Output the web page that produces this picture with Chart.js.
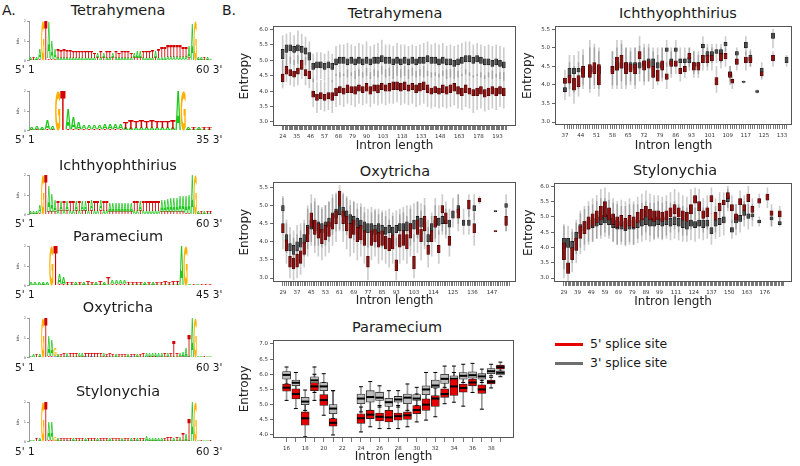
<!DOCTYPE html>
<html>
<head>
<meta charset="utf-8">
<script src="https://cdn.jsdelivr.net/npm/chart.js@4.4.0/dist/chart.umd.min.js"></script>
<style>
  body { margin: 0; width: 800px; height: 466px; overflow: hidden; position: relative; background: #fff;
         font-family: "DejaVu Sans", sans-serif; color: #1a1a1a; }
  .txt { position: absolute; white-space: nowrap; line-height: 1; }
  .key { position: absolute; height: 3px; }
</style>
</head>
<body>
<script>
// ---------- panel A: sequence logos (letters per position, bits per position) ----------
const tetraLogoTop = "ATAAGTAAAT" + "TTTTTTTTTT" + "TTATATTATT" + "TTTTAAATTT" + "TATTTTTTTT" + "TTAAGAATAA";
const tetraLogoTopBits = [.12,.12,.15,.5,2,2,1.85,.9,.5,.45, .42,.45,.4,.38,.35,.35,.32,.3,.3,.32,
  .3,.28,.25,.3,.25,.3,.3,.25,.3,.28, .35,.32,.3,.28,.28,.3,.32,.35,.3,.3,
  .38,.3,.45,.5,.55,.58,.6,.62,.6,.6, .55,.55,.6,1.9,2,.12,.15,.1,.1,.08];
const tetraLogoLow = "TATTAATTTA" + "AAAAAAAAAA" + "AATATAATAA" + "AAAATTTAAA" + "ATAAAAAAAA" + "AATTATTATT";
const tetraLogoLowBits = [.05,.05,.06,.1,0,0,.1,.08,.1,.15, .15,.16,.15,.14,.15,.16,.15,.14,.15,.16,
  .15,.14,.12,.15,.12,.14,.15,.12,.15,.14, .15,.14,.15,.14,.12,.12,.13,.15,.14,.15,
  .15,.12,.15,.18,.18,.2,.2,.2,.2,.2, .2,.2,.15,0,0,.05,.06,.05,.05,.04];

const tetra35LogoTop = "AAAAAGTAAA" + "AAAAAAAATT" + "TTTTTTTTAG" + "ATATT";
const tetra35LogoTopBits = [.15,.2,.15,.45,.2,2,2,1,.6,.3, .2,.22,.2,.22,.25,.28,.25,.25,.3,.45,
  .35,.38,.32,.42,.3,.35,.3,.45,2,2, .1,.15,.1,.12,.15];
const tetra35LogoLow = "TTTTTAATTT" + "TTTTTTTTAA" + "AAAAAAAAAA" + "TATAA";
const tetra35LogoLowBits = [.05,.05,.05,.08,.05,0,0,.1,.1,.1, .08,.08,.08,.08,.1,.1,.1,.1,.12,.12,
  .15,.15,.15,.15,.15,.15,.15,.12,0,0, .05,.05,.05,.05,.05];

const ichLogoTop = "AAAAGTAAAT" + "ATATTATAAT" + "ATTATTAAAA" + "AAAATTATTT" + "TTTAAAAAAA" + "AAAAGATATT";
const ichLogoTopBits = [.12,.15,.15,.4,2,2,1.3,.9,.6,.55, .5,.55,.5,.55,.55,.5,.55,.5,.5,.55,
  .5,.55,.55,.5,.55,.55,.45,.45,.45,.45, .45,.45,.45,.45,.55,.55,.5,.55,.55,.55,
  .55,.55,.55,.6,.62,.65,.7,.72,.75,.78, .8,.85,.9,2,2,.1,.12,.1,.12,.1];
const ichLogoLow = "TTTTAATTTA" + "TATAATATTA" + "TAATAATTTT" + "TTTTAATAAA" + "AAATTTTTTT" + "TTTTATATAA";
const ichLogoLowBits = [.05,.05,.05,.08,0,0,.12,.12,.15,.2, .2,.2,.2,.2,.2,.2,.2,.2,.2,.2,
  .22,.2,.2,.22,.2,.2,.15,.15,.15,.15, .15,.15,.15,.15,.2,.2,.2,.2,.2,.2,
  .2,.2,.2,.15,.15,.15,.15,.12,.12,.12, .12,.1,.1,0,0,.05,.05,.05,.05,.05];

const paraLogoTop = "AAAAAGTAAT" + "TATATTATAT" + "AAAATTTTAT" + "ATTTTTTAGA" + "TATTT";
const paraLogoTopBits = [.1,.12,.1,.15,.12,2,2,.5,.3,.15, .15,.12,.15,.12,.18,.12,.15,.2,.15,.3,
  .18,.2,.2,.18,.15,.15,.15,.12,.15,.15, .12,.15,.15,.18,.15,.18,.2,2,2,.08, .08,.08,.06,.08,.06];
const paraLogoLow = "TTTTTAATTA" + "ATATAATATA" + "TTTTAAAATA" + "TAAAAAATAT" + "ATAAA";
const paraLogoLowBits = [.04,.04,.04,.05,.04,0,0,.08,.08,.06, .06,.06,.06,.06,.06,.06,.06,.06,.06,.08,
  .08,.08,.08,.08,.06,.06,.06,.06,.06,.06, .06,.06,.06,.06,.06,.06,.06,0,0,.03, .03,.03,.03,.03,.03];

const oxyLogoTop = "AATAGTAAGA" + "TTATTTAATT" + "TTTTATTTAT" + "TTATTATTAA" + "AAAATATTTA" + "AATAGAATAA";
const oxyLogoTopBits = [.08,.1,.1,.15,2,2,1,.8,.4,.15, .15,.18,.2,.2,.18,.2,.22,.2,.2,.18,
  .2,.18,.18,.2,.18,.15,.18,.15,.15,.15, .15,.15,.12,.15,.15,.12,.15,.18,.2,.2,
  .22,.22,.2,.2,.18,.2,.22,.8,.2,.2, .25,.45,1.1,2,2,.08,.06,.06,.05,.05];
const oxyLogoLow = "TCATAATTCT" + "AACAAATTCA" + "CAAATCAATA" + "AATCATAACT" + "TTCTATAAAT" + "TCATATCATT";
const oxyLogoLowBits = [.04,.04,.04,.05,0,0,.1,.1,.08,.06, .06,.06,.06,.06,.06,.06,.06,.06,.06,.06,
  .06,.06,.06,.06,.06,.06,.06,.06,.06,.06, .06,.06,.06,.06,.06,.06,.06,.06,.06,.06,
  .06,.06,.06,.06,.06,.06,.06,.05,.06,.06, .06,.06,.05,0,0,.03,.03,.03,.03,.03];

const styLogoTop = "AATAGTAAGA" + "TTTTATTTAT" + "TTATTTATTT" + "ATTATATTAA" + "AAAATTTATA" + "TATAGATAAT";
const styLogoTopBits = [.06,.08,.1,.1,2,2,.9,.9,.2,.12, .12,.15,.12,.12,.12,.12,.12,.1,.1,.12,
  .1,.1,.12,.1,.1,.1,.12,.1,.12,.1, .1,.1,.1,.1,.1,.12,.1,.12,.25,.15,
  .15,.15,.15,.15,.15,.18,.18,.15,.2,.18, .4,.3,1.1,2,2,.05,.05,.05,.05,.05];
const styLogoLow = "TCATAATTCT" + "AACATAAATA" + "AATCAATAAA" + "TAATCTAACT" + "TTCTAAATAT" + "ATATATCTTA";
const styLogoLowBits = [.04,.04,.04,.05,0,0,.08,.08,.05,.05, .05,.05,.05,.05,.05,.05,.05,.05,.05,.05,
  .05,.05,.05,.05,.05,.05,.05,.05,.05,.05, .05,.05,.05,.05,.05,.05,.05,.05,.05,.05,
  .05,.05,.05,.05,.05,.05,.05,.05,.05,.05, .05,.05,.05,0,0,.03,.03,.03,.03,.03];

// ---------- panel B: entropy boxplots, tuples are [low whisker, q1, q3, high whisker] ----------
const tetraLengths = [24,27,30,33,36,39,42,45,48,51,54,57,60,63,66,69,72,75,78,81,84,87,90,93,96,99,
  102,105,108,111,114,117,120,123,126,129,132,135,138,141,144,147,150,153,156,159,162,165,168,171,
  174,177,180,183,186,189,192,195,198];
const tetraThree = [[4.4,5.05,5.35,5.8],[4.8,5.25,5.5,5.85],[4.9,5.3,5.5,5.9],[4.85,5.25,5.45,5.8],
  [4.9,5.3,5.5,5.95],[4.9,5.25,5.45,5.85],[4.85,5.2,5.4,5.75],[4.6,5.0,5.25,5.6],[4.3,4.7,4.9,5.2],
  [4.35,4.75,4.95,5.25],[4.4,4.75,4.95,5.25],[4.35,4.7,4.9,5.2],[4.4,4.75,4.95,5.3],[4.3,4.7,4.9,5.2],
  [4.5,4.85,5.05,5.45],[4.45,4.9,5.1,5.5],[4.5,4.9,5.1,5.5],[4.45,4.85,5.05,5.55],[4.5,4.9,5.1,5.5],
  [4.4,4.85,5.05,5.45],[4.5,4.9,5.1,5.55],[4.45,4.85,5.05,5.5],[4.5,4.9,5.1,5.6],[4.4,4.85,5.05,5.45],
  [4.5,4.9,5.1,5.5],[4.45,4.9,5.1,5.55],[4.55,4.95,5.15,5.65],[4.45,4.9,5.1,5.5],[4.5,4.9,5.1,5.5],
  [4.4,4.85,5.05,5.45],[4.5,4.9,5.1,5.55],[4.45,4.85,5.05,5.5],[4.5,4.9,5.1,5.5],[4.4,4.85,5.05,5.45],
  [4.5,4.9,5.1,5.5],[4.45,4.85,5.05,5.45],[4.5,4.9,5.1,5.5],[4.45,4.9,5.1,5.55],[4.5,4.95,5.15,5.6],
  [4.45,4.9,5.1,5.5],[4.5,4.9,5.1,5.55],[4.45,4.85,5.05,5.5],[4.5,4.9,5.1,5.55],[4.4,4.85,5.05,5.45],
  [4.45,4.85,5.05,5.5],[4.4,4.8,5.0,5.45],[4.45,4.85,5.05,5.5],[4.5,4.9,5.1,5.55],[4.55,4.95,5.15,5.6],
  [4.5,4.95,5.15,5.6],[4.45,4.9,5.1,5.5],[4.5,4.95,5.15,5.55],[4.45,4.9,5.1,5.5],[4.4,4.85,5.05,5.45],
  [4.45,4.85,5.05,5.5],[4.4,4.8,5.0,5.45],[4.45,4.85,5.05,5.5],[4.4,4.8,5.0,5.45],[4.35,4.75,4.95,5.4]];
const tetraFive = [[4.1,4.3,4.55,5.0],[4.3,4.55,4.8,5.2],[4.2,4.5,4.7,5.1],[4.15,4.45,4.65,5.0],
  [4.2,4.55,4.75,5.15],[4.4,4.7,5.0,5.4],[4.2,4.5,4.7,5.1],[4.1,4.4,4.65,5.05],[3.5,3.8,4.0,4.4],
  [3.3,3.7,3.9,4.3],[3.4,3.75,3.95,4.35],[3.35,3.7,3.9,4.3],[3.4,3.75,3.95,4.4],[3.3,3.7,3.95,4.35],
  [3.5,3.85,4.1,4.55],[3.55,3.95,4.15,4.6],[3.5,3.9,4.1,4.55],[3.6,3.95,4.2,4.7],[3.55,3.95,4.15,4.6],
  [3.5,3.9,4.15,4.65],[3.6,4.0,4.2,4.7],[3.55,3.95,4.15,4.6],[3.6,4.0,4.25,4.75],[3.5,3.9,4.15,4.6],
  [3.6,4.0,4.2,4.7],[3.55,3.95,4.2,4.65],[3.6,4.05,4.25,4.8],[3.55,4.0,4.2,4.7],[3.6,4.0,4.25,4.75],
  [3.6,4.05,4.3,4.8],[3.65,4.05,4.3,4.85],[3.55,4.0,4.25,4.7],[3.6,4.05,4.3,4.8],[3.55,4.0,4.2,4.7],
  [3.6,4.05,4.25,4.75],[3.5,3.95,4.2,4.65],[3.55,4.0,4.25,4.7],[3.6,4.05,4.3,4.8],[3.5,3.95,4.2,4.65],
  [3.45,3.9,4.1,4.6],[3.5,3.95,4.15,4.6],[3.45,3.9,4.1,4.55],[3.5,3.95,4.2,4.65],[3.45,3.9,4.15,4.7],
  [3.5,3.95,4.2,4.7],[3.55,4.0,4.25,4.75],[3.45,3.9,4.15,4.65],[3.4,3.85,4.1,4.55],[3.5,3.95,4.2,4.7],
  [3.45,3.9,4.1,4.6],[3.3,3.85,4.05,4.5],[3.4,3.85,4.1,4.55],[3.45,3.9,4.15,4.6],[3.35,3.8,4.05,4.5],
  [3.4,3.85,4.1,4.6],[3.45,3.9,4.15,4.65],[3.4,3.85,4.1,4.55],[3.5,3.9,4.15,4.6],[3.45,3.85,4.1,4.6]];
const tetraTickLabels = [24,35,46,57,68,79,90,103,118,133,148,163,178,193];

const ichLengths = [37,39,41,43,45,48,50,52,58,60,62,64,66,68,70,72,74,76,78,80,82,84,86,88,90,92,94,96,
  98,100,102,104,106,108,110,111,113,116,117,119,122,124,129,135];
const ichThree = [[3.6,3.82,3.93,4.1],[3.9,4.2,4.45,4.8],[3.8,4.3,4.45,4.8],[3.9,4.35,4.45,4.9],
  [4.0,4.3,4.45,4.95],[3.9,4.3,4.5,5.0],[4.0,4.35,4.5,5.0],[3.9,4.3,4.5,4.9],[4.0,4.35,4.5,4.9],
  [4.0,4.4,4.6,5.0],[4.1,4.45,4.6,5.1],[4.0,4.4,4.6,5.0],[4.1,4.4,4.6,5.0],[4.0,4.45,4.6,5.0],
  [4.1,4.45,4.6,5.05],[4.1,4.5,4.65,5.1],[4.1,4.5,4.7,5.1],[4.2,4.5,4.7,5.0],[4.2,4.45,4.6,5.0],
  [4.2,4.45,4.6,5.0],[4.5,4.9,5.0,5.2],[4.3,4.55,4.7,5.0],[4.6,4.9,5.0,5.2],[4.3,4.6,4.7,5.0],
  [4.4,4.6,4.7,5.0],[4.4,4.6,4.75,5.0],[4.3,4.5,4.6,4.9],[4.3,4.5,4.6,4.9],
  [4.8,5.0,5.1,5.3],[4.5,4.75,4.9,5.1],[4.6,4.8,4.9,5.1],[4.6,4.85,4.95,5.1],[4.6,4.8,4.95,5.1],
  [4.9,5.05,5.15,5.3],[4.1,4.25,4.35,4.5],null,[4.6,4.8,4.9,5.0],[4.05,4.07,4.1,4.12],
  [4.8,5.0,5.15,5.3],[4.5,4.65,4.8,4.95],[3.78,3.8,3.85,3.87],[4.2,4.35,4.45,4.6],
  [5.0,5.25,5.4,5.5],[4.5,4.6,4.75,4.8]];
const ichFive = [[3.8,4.04,4.18,4.4],[3.7,4.05,4.25,4.6],[3.5,3.86,4.18,4.5],[3.7,3.95,4.25,4.6],
  [3.9,4.2,4.5,4.8],[3.8,4.2,4.55,5.2],[3.9,4.3,4.6,5.1],[3.7,4.0,4.55,5.0],[3.9,4.3,4.5,4.9],
  [3.9,4.4,4.75,5.2],[3.9,4.45,4.8,5.2],[3.9,4.3,4.6,5.0],[4.0,4.35,4.55,4.9],[3.9,4.3,4.55,5.0],
  [4.3,4.7,4.9,5.3],[4.0,4.4,4.65,5.0],[4.1,4.45,4.65,5.0],[3.9,4.2,4.5,4.9],[4.0,4.1,4.4,4.8],
  [4.1,4.4,4.65,5.0],[3.9,4.15,4.3,4.6],[4.2,4.5,4.65,4.9],[4.3,4.5,4.65,4.9],[4.1,4.3,4.45,4.7],
  [4.2,4.35,4.5,4.7],[4.5,4.7,4.85,5.0],[4.2,4.4,4.6,4.9],[4.2,4.4,4.6,4.8],
  [4.4,4.6,4.8,5.0],[4.4,4.6,4.8,5.0],[4.4,4.65,4.8,5.0],[3.8,4.0,4.2,4.5],[4.45,4.65,4.85,5.0],
  [4.5,4.7,4.85,5.0],[4.0,4.2,4.35,4.5],[3.9,4.05,4.15,4.3],[4.4,4.55,4.7,4.9],null,
  [4.4,4.6,4.75,4.9],[4.5,4.6,4.75,4.9],null,[4.15,4.25,4.35,4.45],
  [4.5,4.65,4.8,4.9],null];
const ichTickLabels = [37,44,51,58,65,72,79,86,93,101,109,117,125,133];

const oxyLengths = [29,31,33,35,37,39,41,43,45,47,49,51,53,55,57,59,61,63,65,67,69,71,73,75,77,79,81,83,
  85,87,89,91,93,95,97,99,101,103,105,107,109,111,113,115,117,119,121,123,125,128,131,134,137,140,149,155];
const oxyThree = [[4.5,4.85,5.0,5.25],[3.7,4.0,4.2,4.6],[3.4,3.75,3.95,4.4],[3.3,3.65,3.9,4.3],
  [3.4,3.75,4.0,4.45],[3.5,3.85,4.1,4.5],[3.6,3.95,4.2,4.6],[3.8,4.2,4.45,4.9],[4.0,4.35,4.6,5.05],
  [3.9,4.3,4.6,5.1],[3.9,4.3,4.55,5.0],[3.85,4.25,4.5,4.95],[3.9,4.3,4.55,5.0],[4.0,4.4,4.65,5.1],
  [4.2,4.55,4.8,5.2],[4.3,4.65,4.9,5.3],[4.35,4.75,5.0,5.4],[4.3,4.7,4.95,5.35],[4.2,4.6,4.85,5.25],
  [4.1,4.5,4.75,5.15],[4.05,4.45,4.7,5.1],[4.0,4.4,4.65,5.05],[3.95,4.35,4.6,5.05],[3.9,4.3,4.55,4.95],
  [3.85,4.25,4.5,4.9],[3.9,4.25,4.5,4.95],[3.85,4.2,4.45,4.9],[3.9,4.25,4.5,4.9],[3.85,4.2,4.45,4.85],
  [3.8,4.2,4.4,4.85],[3.9,4.25,4.45,4.9],[3.85,4.2,4.4,4.8],[3.9,4.25,4.45,4.85],[3.95,4.3,4.5,4.9],
  [3.9,4.3,4.5,4.95],[3.95,4.3,4.55,5.0],[3.9,4.25,4.5,4.9],[4.0,4.35,4.6,5.05],[4.1,4.45,4.7,5.1],
  [4.05,4.4,4.65,5.05],[3.9,4.3,4.55,5.0],[3.8,4.0,4.2,4.6],[4.0,4.3,4.5,4.8],[4.1,4.4,4.6,5.0],
  [4.2,4.45,4.65,5.0],[4.3,4.5,4.7,5.0],[4.2,4.5,4.6,4.9],[4.1,4.4,4.6,4.9],[4.4,4.65,4.85,5.2],
  [4.5,4.8,5.0,5.3],[4.2,4.45,4.6,4.9],[4.2,4.45,4.6,4.85],[4.6,4.85,5.0,5.3],null,
  [4.82,4.83,4.86,4.87],[4.3,4.95,5.05,5.3]];
const oxyFive = [[3.8,4.25,4.5,5.2],[3.4,3.75,4.05,4.5],[3.0,3.3,3.6,4.2],[2.95,3.25,3.55,4.1],
  [3.0,3.3,3.65,4.2],[3.1,3.4,3.75,4.3],[3.3,3.65,4.0,4.5],[3.6,4.0,4.4,5.0],[3.9,4.4,4.8,5.3],
  [3.7,4.2,4.6,5.2],[3.6,4.1,4.5,5.0],[3.5,3.95,4.35,4.9],[3.6,4.05,4.45,5.0],[3.7,4.15,4.55,5.1],
  [3.9,4.35,4.75,5.3],[4.0,4.5,4.85,5.35],[4.3,5.0,5.4,5.55],[4.0,4.5,4.85,5.3],[3.8,4.3,4.7,5.2],
  [3.6,4.1,4.5,5.0],[3.7,4.2,4.6,5.1],[3.5,4.0,4.4,4.9],[3.6,4.05,4.45,4.95],[3.4,3.9,4.3,4.8],
  [2.95,3.3,3.6,4.3],[3.5,3.9,4.3,4.8],[3.6,4.0,4.35,4.85],[3.4,3.85,4.25,4.75],[3.5,3.9,4.3,4.8],
  [3.4,3.8,4.15,4.7],[3.3,3.75,4.1,4.6],[3.4,3.8,4.2,4.7],[2.95,3.2,3.5,4.1],[3.4,3.85,4.2,4.75],
  [3.5,3.9,4.3,4.8],[3.4,3.8,4.2,4.7],[3.6,4.1,4.5,5.0],[3.0,3.25,3.6,4.2],[3.7,4.2,4.6,5.1],
  [3.5,4.0,4.35,4.85],[3.8,4.3,4.7,5.2],[3.3,3.65,3.9,4.4],[3.6,4.0,4.3,4.7],[4.0,4.4,4.7,5.2],
  [3.4,3.7,3.9,4.3],[4.2,4.8,5.0,5.3],[4.1,4.5,4.8,5.1],[3.6,3.9,4.15,4.5],null,
  [4.3,4.65,4.9,5.3],null,[4.7,4.9,5.15,5.3],[3.9,4.25,4.5,4.8],[5.05,5.1,5.2,5.25],
  [4.27,4.28,4.31,4.32],[4.3,4.45,4.7,4.9]];
const oxyTickLabels = [29,37,45,53,61,69,77,85,93,103,114,125,136,147];

const styLengths = [29,32,35,38,41,44,47,50,53,56,59,62,65,68,71,74,77,80,83,86,89,92,95,98,101,104,107,
  110,113,116,119,122,125,128,131,134,137,140,143,146,149,152,155,158,161,164,167,172,178,181,187];
const styThree = [[3.3,3.95,4.3,4.75],[3.4,4.0,4.3,4.7],[3.5,3.95,4.2,4.6],[3.8,4.2,4.5,4.9],
  [4.0,4.45,4.75,5.1],[4.1,4.55,4.85,5.25],[4.2,4.6,4.9,5.35],[4.2,4.65,4.95,5.4],[4.3,4.7,5.0,5.5],
  [4.3,4.75,5.05,5.6],[4.35,4.8,5.1,5.6],[4.3,4.75,5.05,5.55],[4.2,4.65,4.95,5.45],[4.1,4.6,4.9,5.4],
  [4.1,4.6,4.85,5.35],[4.05,4.55,4.85,5.35],[4.1,4.6,4.9,5.4],[4.1,4.6,4.9,5.4],[4.15,4.65,4.9,5.4],
  [4.2,4.7,4.95,5.45],[4.25,4.75,5.0,5.5],[4.2,4.7,4.95,5.45],[4.25,4.7,4.95,5.45],[4.3,4.75,5.0,5.5],
  [4.25,4.7,4.95,5.45],[4.3,4.75,5.0,5.5],[4.25,4.7,4.95,5.45],[4.3,4.75,5.0,5.5],[4.25,4.7,4.95,5.4],
  [4.2,4.65,4.9,5.35],[4.2,4.6,4.85,5.3],[4.25,4.7,4.9,5.35],[4.2,4.65,4.85,5.3],[4.3,4.7,4.9,5.35],
  [4.25,4.65,4.9,5.3],[4.3,4.7,4.9,5.35],[4.1,4.45,4.65,5.1],[4.3,4.7,4.9,5.35],[4.35,4.75,4.95,5.4],
  [4.4,4.8,5.0,5.45],[5.2,5.5,5.7,5.9],[4.3,4.5,4.65,4.9],[4.4,4.8,5.0,5.4],[4.5,4.85,5.05,5.4],
  [4.7,5.05,5.2,5.5],[4.6,4.95,5.1,5.4],[4.7,5.0,5.1,5.4],[4.7,4.8,4.9,5.0],null,
  [4.7,4.9,5.0,5.2],[4.7,4.75,4.85,5.0]];
const styFive = [[3.0,3.6,4.15,4.7],[2.9,3.15,3.5,4.1],[3.2,3.6,4.0,4.5],[3.5,3.9,4.3,4.8],
  [3.8,4.3,4.7,5.2],[3.9,4.45,4.85,5.35],[4.1,4.6,5.0,5.5],[4.2,4.7,5.1,5.6],[4.3,4.8,5.2,5.7],
  [4.4,4.9,5.35,5.9],[4.5,5.0,5.5,5.95],[4.4,4.9,5.3,5.8],[4.2,4.75,5.1,5.6],[4.1,4.65,5.0,5.5],
  [4.2,4.7,5.05,5.55],[4.1,4.6,4.95,5.5],[4.2,4.7,5.05,5.6],[4.1,4.65,5.0,5.5],[4.3,4.8,5.15,5.65],
  [4.4,4.9,5.25,5.75],[4.5,5.0,5.35,5.85],[4.4,4.9,5.25,5.75],[4.3,4.85,5.2,5.7],[4.35,4.9,5.2,5.7],
  [4.3,4.85,5.15,5.65],[4.4,4.9,5.2,5.7],[4.5,5.0,5.3,5.8],[4.6,5.1,5.4,5.9],[4.5,5.0,5.3,5.8],
  [4.4,4.9,5.2,5.7],[4.4,4.85,5.15,5.65],[4.6,5.1,5.4,5.9],[4.9,5.45,5.7,5.95],[4.7,5.2,5.5,5.9],
  [4.5,4.95,5.2,5.6],[4.6,5.0,5.3,5.7],[5.1,5.5,5.7,5.95],[4.5,4.9,5.15,5.6],[4.8,5.2,5.45,5.8],
  [5.0,5.4,5.55,5.8],[5.3,5.6,5.8,6.0],[4.8,5.2,5.4,5.7],[4.6,4.9,5.1,5.4],[5.0,5.4,5.6,5.85],
  [4.9,5.2,5.4,5.7],[5.1,5.5,5.75,6.0],[4.9,5.15,5.35,5.6],[5.3,5.45,5.6,5.75],[5.3,5.55,5.75,5.95],
  [4.7,5.05,5.2,5.4],[4.8,5.0,5.2,5.35]];
const styTickLabels = [29,39,49,59,69,79,89,99,111,124,137,150,163,176];

// Paramecium tuples carry the median too: [low whisker, q1, median, q3, high whisker]
const paraLengths = [16,17,18,19,20,21,24,25,26,27,28,29,30,31,32,33,34,35,36,37,38,39];
const paraThree = [[5.68,5.84,5.98,6.09,6.24],[5.46,5.62,5.72,5.81,6.06],[4.81,5.0,5.1,5.24,5.48],
  [5.4,5.68,5.8,5.92,6.24],[5.19,5.46,5.6,5.73,6.02],[4.54,4.7,4.87,5.0,5.46],[4.76,5.03,5.2,5.35,5.59],
  [4.81,5.08,5.25,5.46,5.76],[4.92,5.14,5.23,5.41,5.62],[4.76,4.94,5.08,5.21,5.46],[4.92,5.08,5.17,5.27,5.46],
  [4.81,5.03,5.23,5.35,5.68],[4.97,5.14,5.2,5.33,5.57],[5.14,5.33,5.5,5.62,6.06],[5.24,5.55,5.63,5.81,6.06],
  [5.57,5.7,5.85,6.0,6.27],[5.62,5.73,5.85,5.95,6.27],[5.73,5.84,5.95,6.06,6.33],[5.78,5.87,5.97,6.08,6.36],
  [5.73,5.84,5.93,6.02,6.17],[5.95,6.02,6.1,6.19,6.33],[5.92,5.98,6.05,6.11,6.22]];
const paraFive = [[5.14,5.44,5.56,5.68,5.95],[4.87,5.19,5.35,5.52,5.73],[3.94,4.32,4.55,4.76,5.19],
  [5.14,5.46,5.6,5.73,6.0],[4.65,4.97,5.15,5.33,5.73],[4.0,4.29,4.4,4.54,5.46],[4.1,4.38,4.55,4.7,4.92],
  [4.27,4.54,4.67,4.81,5.14],[4.21,4.46,4.6,4.72,4.97],[4.21,4.43,4.58,4.81,5.14],[4.21,4.49,4.62,4.72,4.97],
  [4.27,4.51,4.65,4.76,5.14],[4.43,4.7,4.82,4.97,5.35],[4.49,4.81,5.0,5.19,5.41],[4.6,4.94,5.2,5.3,5.55],
  [5.03,5.24,5.35,5.52,5.84],[5.08,5.3,5.6,5.84,6.06],[4.95,5.41,5.55,5.68,5.9],[5.4,5.62,5.73,5.84,6.0],
  [4.85,5.37,5.5,5.65,5.8],[5.55,5.68,5.75,5.81,5.9],[6.1,6.17,6.23,6.3,6.4]];
const paraTickLabels = [16,18,20,22,24,26,28,30,32,34,36,38];

// ---------- helpers ----------
const FONT = '"DejaVu Sans", sans-serif';
Chart.defaults.font.family = FONT;

function range(a, b) {
    const out = [];
    for (let v = a; v <= b; v++) out.push(v);
    return out;
}

function text(str, x, y, size, align) {
    const d = document.createElement('div');
    d.className = 'txt';
    d.textContent = str;
    d.style.left = x + 'px';
    d.style.top = y + 'px';
    d.style.fontSize = size + 'px';
    d.style.transform = align === 'left' ? 'translate(0,-50%)' : 'translate(-50%,-50%)';
    document.body.appendChild(d);
}

// box outline around the plotting region, R style
const framePlugin = {
    id: 'frame',
    afterDraw(chart) {
        const a = chart.chartArea, c = chart.ctx;
        c.save();
        c.strokeStyle = '#555';
        c.lineWidth = 1;
        c.strokeRect(Math.round(a.left) + 0.5, Math.round(a.top) + 0.5,
            Math.round(a.right - a.left) - 1, Math.round(a.bottom - a.top) - 1);
        c.restore();
    }
};

// draws each logo bar as a stretched nucleotide letter
const baseColor = { A: '#22c822', C: '#2a3fd0', G: '#ffb000', T: '#d40000' };
const letterPlugin = {
    id: 'letters',
    afterDatasetsDraw(chart) {
        const ctx = chart.ctx;
        ctx.save();
        ctx.font = 'bold 100px ' + FONT;
        ctx.textBaseline = 'alphabetic';
        chart.data.datasets.forEach((ds, di) => {
            chart.getDatasetMeta(di).data.forEach((bar, i) => {
                const ch = ds.letters[i];
                const h = bar.base - bar.y;
                if (!ch || h < 0.3) return;
                const m = ctx.measureText(ch);
                const gw = m.actualBoundingBoxLeft + m.actualBoundingBoxRight;
                const gh = m.actualBoundingBoxAscent + m.actualBoundingBoxDescent;
                ctx.save();
                ctx.translate(bar.x - bar.width / 2, bar.base);
                ctx.scale(bar.width / gw, h / gh);
                ctx.fillStyle = baseColor[ch];
                ctx.fillText(ch, m.actualBoundingBoxLeft, -m.actualBoundingBoxDescent);
                ctx.restore();
            });
        });
        ctx.restore();
    }
};

function logoChart(top, bottom, topLetters, topBits, lowLetters, lowBits) {
    const pad = 3, left = 14, right = 212;
    const cv = document.createElement('canvas');
    cv.width = right - left;
    cv.height = bottom - top + 2 * pad;
    cv.style.cssText = `position:absolute;left:${left}px;top:${top - pad}px`;
    document.body.appendChild(cv);
    const common = { backgroundColor: 'rgba(0,0,0,0)', barPercentage: 1, categoryPercentage: 1 };
    new Chart(cv, {
        type: 'bar',
        data: {
            labels: range(1, topBits.length),
            datasets: [
                Object.assign({ data: lowBits, letters: lowLetters }, common),
                Object.assign({ data: topBits, letters: topLetters }, common)
            ]
        },
        options: {
            responsive: false, animation: false, events: [],
            layout: { padding: { top: pad, bottom: pad, left: 0, right: 0 } },
            plugins: { legend: { display: false }, tooltip: { enabled: false } },
            scales: {
                x: { stacked: true, display: false },
                y: {
                    stacked: true, min: 0, max: 2,
                    ticks: { stepSize: 1, font: { size: 3.5 }, color: '#555', padding: 1 },
                    grid: { drawOnChartArea: false, tickLength: 2, color: '#999' },
                    border: { display: true, color: '#999' },
                    title: { display: true, text: 'bits', font: { size: 3.5 }, color: '#555', padding: { top: 2, bottom: 0 } },
                    afterFit: s => { s.width = 15; }
                }
            }
        },
        plugins: [letterPlugin]
    });
}

// whiskers and boxes of one splice-site series on a dense panel
function denseSets(lengths, tuples, fill, edge, boxW, order) {
    const pts = [];
    lengths.forEach((x, i) => { if (tuples[i]) pts.push({ x: x, t: tuples[i] }); });
    return [
        { data: pts.map(p => ({ x: p.x, y: [p.t[1], p.t[2]] })), backgroundColor: fill, borderColor: edge,
          borderWidth: 0.6, borderSkipped: false, barThickness: boxW, grouped: false, order: order },
        { data: pts.map(p => ({ x: p.x, y: [p.t[0], p.t[3]] })), backgroundColor: 'rgba(0,0,0,0.2)',
          barThickness: 1, grouped: false, order: 10 }
    ];
}

function paraSets(tuples, fill, order) {
    const pts = paraLengths.map((x, i) => ({ x: x, t: tuples[i] }));
    return [
        { type: 'line', data: pts.map(p => ({ x: p.x, y: p.t[2] })), showLine: false, pointStyle: 'line',
          pointRadius: 4, pointBorderWidth: 2, pointBorderColor: '#000', order: order },
        { data: pts.map(p => ({ x: p.x, y: [p.t[1], p.t[3]] })), backgroundColor: fill, borderColor: '#222',
          borderWidth: 0.8, borderSkipped: false, barThickness: 8, grouped: false, order: order + 1 },
        { type: 'line', data: pts.flatMap(p => [{ x: p.x, y: p.t[0] }, { x: p.x, y: p.t[4] }]), showLine: false,
          pointStyle: 'line', pointRadius: 2, pointBorderWidth: 1, pointBorderColor: '#000', order: 8 },
        { data: pts.map(p => ({ x: p.x, y: [p.t[0], p.t[4]] })), backgroundColor: 'rgba(0,0,0,0.4)',
          barThickness: 1, grouped: false, order: 10 }
    ];
}

function boxChart(o) {
    const f = o.frame, padTop = 5, padRight = 4;
    const left = f.l - o.yW, top = f.t - padTop;
    const cv = document.createElement('canvas');
    cv.width = f.r + padRight - left;
    cv.height = f.b - top + o.xH;
    cv.style.cssText = `position:absolute;left:${left}px;top:${top}px`;
    document.body.appendChild(cv);
    new Chart(cv, {
        type: 'bar',
        data: { datasets: o.datasets },
        options: {
            responsive: false, animation: false, events: [],
            layout: { padding: { top: padTop, right: padRight, left: 0, bottom: 0 } },
            plugins: { legend: { display: false }, tooltip: { enabled: false } },
            scales: {
                x: {
                    type: 'linear', min: o.xMin, max: o.xMax, offset: false,
                    afterBuildTicks: s => { s.ticks = o.xTicks.map(v => ({ value: v })); },
                    ticks: { autoSkip: false, maxRotation: 0, minRotation: 0, padding: 3, color: '#333',
                             font: { size: 5.5 }, callback: v => o.xLabels.includes(v) ? String(v) : '' },
                    grid: { drawOnChartArea: false, tickLength: 4, color: '#777', offset: false },
                    border: { display: false },
                    title: { display: true, text: 'Intron length', font: { size: 12 }, color: '#222', padding: { top: 0, bottom: 0 } },
                    afterFit: s => { s.height = o.xH; }
                },
                y: {
                    type: 'linear', min: o.yMin, max: o.yMax,
                    afterBuildTicks: s => { s.ticks = o.yTicks.map(v => ({ value: v })); },
                    ticks: { padding: 2, color: '#333', font: { size: 5.5 }, callback: v => v.toFixed(1) },
                    grid: { drawOnChartArea: false, tickLength: 3, color: '#666' },
                    border: { display: false },
                    title: { display: true, text: 'Entropy', font: { size: 12 }, color: '#222', padding: { top: 5, bottom: 0 } },
                    afterFit: s => { s.width = o.yW; }
                }
            }
        },
        plugins: [framePlugin]
    });
}

// ---------- panel A ----------
text('A.', 2, 10, 14, 'left');
text('Tetrahymena', 118, 10, 14.5);
logoChart(21, 61, tetraLogoTop, tetraLogoTopBits, tetraLogoLow, tetraLogoLowBits);
text("5' 1", 15, 69, 10.5, 'left');
text("60 3'", 196, 69, 10.5, 'left');
logoChart(91, 131, tetra35LogoTop, tetra35LogoTopBits, tetra35LogoLow, tetra35LogoLowBits);
text("5' 1", 15, 139, 10.5, 'left');
text("35 3'", 196, 139, 10.5, 'left');

text('Ichthyophthirius', 118, 165, 14.5);
logoChart(175, 215, ichLogoTop, ichLogoTopBits, ichLogoLow, ichLogoLowBits);
text("5' 1", 15, 223, 10.5, 'left');
text("60 3'", 196, 223, 10.5, 'left');

text('Paramecium', 118, 236, 14.5);
logoChart(246, 286, paraLogoTop, paraLogoTopBits, paraLogoLow, paraLogoLowBits);
text("5' 1", 15, 294, 10.5, 'left');
text("45 3'", 196, 294, 10.5, 'left');

text('Oxytricha', 118, 307, 14.5);
logoChart(318, 358, oxyLogoTop, oxyLogoTopBits, oxyLogoLow, oxyLogoLowBits);
text("5' 1", 15, 367, 10.5, 'left');
text("60 3'", 196, 367, 10.5, 'left');

text('Stylonychia', 118, 391, 14.5);
logoChart(402, 442, styLogoTop, styLogoTopBits, styLogoLow, styLogoLowBits);
text("5' 1", 15, 451, 10.5, 'left');
text("60 3'", 196, 451, 10.5, 'left');

// ---------- panel B ----------
const RED_DARK = '#8c1212', RED_EDGE = '#3a0000', GREY_DARK = '#4d4d4d', GREY_EDGE = '#111';
text('B.', 222, 10, 14, 'left');

text('Tetrahymena', 395, 13, 14.5);
boxChart({
    frame: { l: 273, t: 26, r: 516, b: 126 }, yW: 40, xH: 27,
    xMin: 16.4, xMax: 207.6, xTicks: range(24, 200), xLabels: tetraTickLabels,
    yMin: 2.87, yMax: 6.1, yTicks: [3, 3.5, 4, 4.5, 5, 5.5, 6],
    datasets: denseSets(tetraLengths, tetraFive, RED_DARK, RED_EDGE, 3, 0)
        .concat(denseSets(tetraLengths, tetraThree, GREY_DARK, GREY_EDGE, 3, 1))
});

text('Ichthyophthirius', 678, 13, 14.5);
boxChart({
    frame: { l: 555, t: 26, r: 792, b: 125 }, yW: 39, xH: 28,
    xMin: 32.6, xMax: 137.4, xTicks: range(37, 135), xLabels: ichTickLabels,
    yMin: 2.92, yMax: 5.58, yTicks: [3, 3.5, 4, 4.5, 5, 5.5],
    datasets: denseSets(ichLengths, ichFive, RED_DARK, RED_EDGE, 3.2, 0)
        .concat(denseSets(ichLengths, ichThree, GREY_DARK, GREY_EDGE, 3.2, 1))
});

text('Oxytricha', 395, 171, 14.5);
boxChart({
    frame: { l: 273, t: 182, r: 516, b: 282 }, yW: 40, xH: 26,
    xMin: 23.4, xMax: 160.6, xTicks: range(29, 157), xLabels: oxyTickLabels,
    yMin: 2.89, yMax: 5.64, yTicks: [3, 3.5, 4, 4.5, 5, 5.5],
    datasets: denseSets(oxyLengths, oxyFive, RED_DARK, RED_EDGE, 2.8, 0)
        .concat(denseSets(oxyLengths, oxyThree, GREY_DARK, GREY_EDGE, 2.8, 1))
});

text('Stylonychia', 675, 170, 14.5);
boxChart({
    frame: { l: 554, t: 183, r: 792, b: 282 }, yW: 37, xH: 27,
    xMin: 21.7, xMax: 196, xTicks: range(29, 190), xLabels: styTickLabels,
    yMin: 2.87, yMax: 6.1, yTicks: [3, 3.5, 4, 4.5, 5, 5.5, 6],
    datasets: denseSets(styLengths, styFive, RED_DARK, RED_EDGE, 3.2, 0)
        .concat(denseSets(styLengths, styThree, GREY_DARK, GREY_EDGE, 3.2, 1))
});

text('Paramecium', 397, 327, 14.5);
boxChart({
    frame: { l: 273, t: 339, r: 516, b: 438 }, yW: 40, xH: 26,
    xMin: 14.54, xMax: 40.46, xTicks: range(16, 39), xLabels: paraTickLabels,
    yMin: 3.9, yMax: 7.13, yTicks: [4, 4.5, 5, 5.5, 6, 6.5, 7],
    datasets: paraSets(paraFive, '#e60000', 0).concat(paraSets(paraThree, '#bdbdbd', 2))
});

// legend
const keys = [['#e60000', "5' splice site", 344], ['#6e6e6e', "3' splice site", 363]];
keys.forEach(k => {
    const line = document.createElement('div');
    line.className = 'key';
    line.style.cssText = `left:555px;top:${k[2] - 1.5}px;width:28px;background:${k[0]}`;
    document.body.appendChild(line);
    text(k[1], 590, k[2], 12.4, 'left');
});
</script>
</body>
</html>
